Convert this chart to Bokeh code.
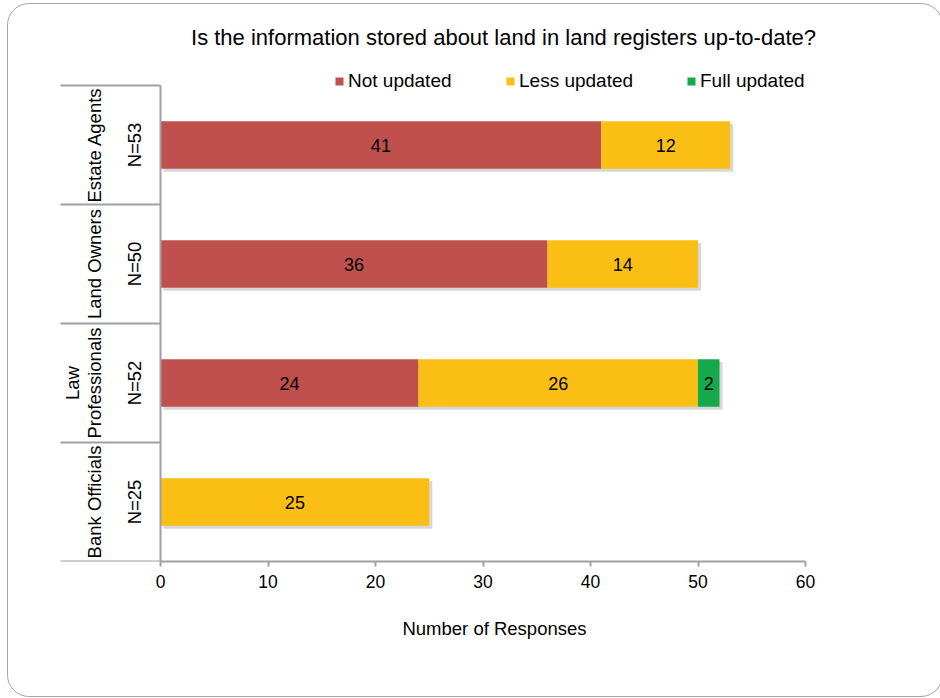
import math
from bokeh.plotting import figure
from bokeh.models import (ColumnDataSource, Range1d, LinearAxis, FixedTicker,
                          Label, Legend, LegendItem, InlineStyleSheet)
from bokeh.core.properties import value
from bokeh.transform import dodge
from bokeh.embed import file_html
from bokeh.resources import INLINE

# ---------------- data ----------------
groups = ["Estate Agents", "Land Owners", "Law Professionals", "Bank Officials"]
group_lines = [["Estate Agents"], ["Land Owners"], ["Law", "Professionals"], ["Bank Officials"]]
n_labels = ["N=53", "N=50", "N=52", "N=25"]
not_updated = [41, 36, 24, 0]
less_updated = [12, 14, 26, 25]
full_updated = [0, 0, 2, 0]
series_names = ["Not updated", "Less updated", "Full updated"]
x_ticks = [0, 10, 20, 30, 40, 50, 60]
title_text = "Is the information stored about land in land registers up-to-date?"
x_title = "Number of Responses"

# ---------------- style / layout ----------------
colors = ["#C0504D", "#FBBE15", "#14AA4B"]
FONT = "Liberation Sans"
W, H = 940, 698
X0PX, X60PX, Y4PX, Y0PX = 160, 805, 85, 561   # where value axis 0/60 and band edges sit (px)
XMAX = 60
NG = len(groups)
MB_LEFT = 48           # frame spans x 48..940 (centres the axis title like the reference)
MB_BOTTOM = H - Y0PX   # bottom panel holds the value axis

def px_x(px):
    return (px - X0PX) / (X60PX - X0PX) * XMAX

def px_y(py):
    return (Y0PX - py) / (Y0PX - Y4PX) * NG

# band centres: first group at the top
ypos = [NG - i - 0.5 for i in range(NG)]

keys = ["not", "less", "full"]
src = ColumnDataSource(dict(
    group=groups, ypos=ypos,
    **{"not": not_updated, "less": less_updated, "full": full_updated},
    total=[a + b + c for a, b, c in zip(not_updated, less_updated, full_updated)],
))

p = figure(width=W, height=H, output_backend="svg", toolbar_location=None, title=None,
           x_range=Range1d(px_x(MB_LEFT), px_x(W)), y_range=Range1d(0, px_y(0)),
           y_axis_location=None, x_axis_location="below",
           min_border_left=MB_LEFT, min_border_right=0, min_border_top=0,
           min_border_bottom=MB_BOTTOM)
p.outline_line_color = None
p.grid.visible = False
p.background_fill_color = "white"
p.border_fill_color = "white"

# rounded outer frame of the chart area (css)
p.stylesheets = [InlineStyleSheet(css="""
:host { position: relative; overflow: hidden; }
:host::after { content: ''; position: absolute; left: 7px; top: 3px; width: 936px; height: 694px;
  border: 1.5px solid #a6a6a6; border-radius: 22px; box-sizing: border-box; pointer-events: none; }
""")]

# bar shadows
p.hbar(y=dodge("ypos", -0.024), left=0.28,
       right=dodge("total", 0.28), height=0.4, source=src, fill_color="#8c8c8c", fill_alpha=0.35,
       line_color=None)

# stacked bars
rs = p.hbar_stack(keys, y="ypos", height=0.4, color=colors, source=src, line_color=None)

# data labels
lx, ly, lt = [], [], []
for i in range(NG):
    left = 0
    for vals in (not_updated, less_updated, full_updated):
        v = vals[i]
        if v > 0:
            lx.append(left + v / 2)
            ly.append(ypos[i])
            lt.append(str(v))
        left += v
p.text(x=lx, y=ly, text=lt, text_font=value(FONT), text_font_size="18px",
       text_align="center", text_baseline="middle", text_color="#000000")

# x (value) axis
xa = p.xaxis[0]
xa.ticker = FixedTicker(ticks=x_ticks)
xa.bounds = (0, XMAX)
xa.minor_tick_line_color = None
xa.major_tick_in = 0
xa.major_tick_out = 5
xa.axis_line_color = "#a0a0a0"
xa.axis_line_width = 2
xa.major_tick_line_color = "#a0a0a0"
xa.major_tick_line_width = 2
xa.major_label_text_font = FONT
xa.major_label_text_font_size = "17.5px"
xa.major_label_text_color = "#000000"
xa.major_label_standoff = 8
xa.axis_label = x_title
xa.axis_label_text_font = FONT
xa.axis_label_text_font_size = "18.5px"
xa.axis_label_text_font_style = "normal"
xa.axis_label_text_color = "#000000"
xa.axis_label_standoff = 27

# category axis line at x=0 with group boundaries drawn as long ticks to the left
ya = LinearAxis(ticker=FixedTicker(ticks=list(range(NG + 1))), fixed_location=0, bounds=(0, NG))
ya.major_tick_in = 100
ya.major_tick_out = 0
ya.minor_tick_line_color = None
ya.axis_line_color = "#a0a0a0"
ya.axis_line_width = 2
ya.major_tick_line_color = "#a0a0a0"
ya.major_tick_line_width = 2
ya.major_label_text_font_size = "0px"
ya.major_label_text_alpha = 0
ya.major_label_standoff = 0
p.add_layout(ya, "right")

# category labels (rotated)
for i, (lines, n) in enumerate(zip(group_lines, n_labels)):
    yc = ypos[i]
    xs = [94] if len(lines) == 1 else [72, 94]
    for line, xp in zip(lines, xs):
        p.add_layout(Label(x=px_x(xp), y=yc, text=line, angle=math.pi / 2,
                           text_font=FONT, text_font_size="18.5px", text_align="center",
                           text_baseline="middle", text_color="#000000"))
    p.add_layout(Label(x=px_x(134), y=yc, text=n, angle=math.pi / 2,
                       text_font=FONT, text_font_size="18.5px", text_align="center",
                       text_baseline="middle", text_color="#000000"))

# title
p.add_layout(Label(x=px_x(503), y=px_y(37), text=title_text,
                   text_font=FONT, text_font_size="22px", text_align="center",
                   text_baseline="middle", text_color="#000000"))

# legends (one per series, positioned individually)
for r, name, gx in zip(rs, series_names, [334, 505, 686]):
    lg = Legend(items=[LegendItem(label=name, renderers=[r])], orientation="horizontal",
                location=(gx - MB_LEFT, Y0PX - 92), padding=0, margin=0, spacing=0,
                border_line_color=None, background_fill_alpha=0,
                glyph_width=10, glyph_height=10, label_standoff=4,
                label_text_font=FONT, label_text_font_size="19px", label_text_color="#000000",
                label_height=20)
    p.add_layout(lg, "center")

open("out.html", "w").write(file_html(p, INLINE))
